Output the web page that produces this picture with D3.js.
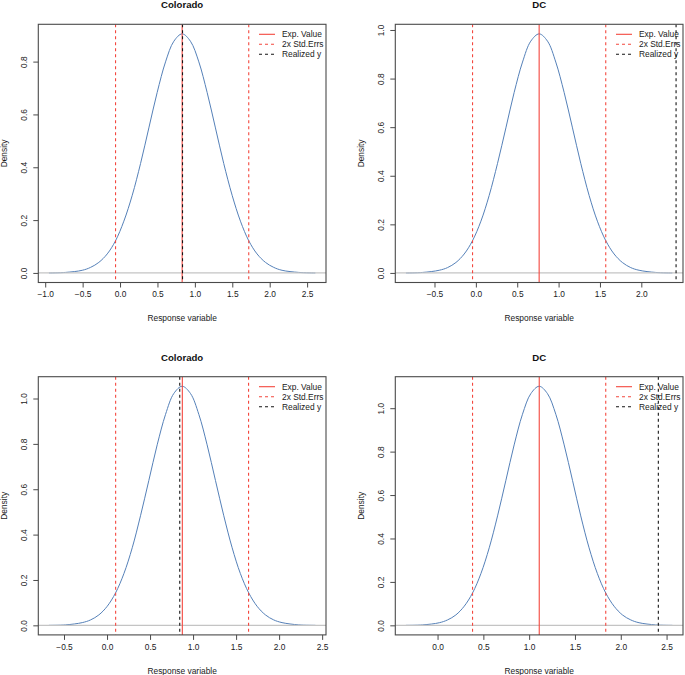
<!DOCTYPE html>
<html>
<head>
<meta charset="utf-8">
<script src="https://cdn.jsdelivr.net/npm/d3@7"></script>
<style>
  html, body { margin: 0; padding: 0; background: #fff; }
  svg { display: block; font-family: "Liberation Sans", Arial, Helvetica, sans-serif; }
</style>
</head>
<body>
<svg id="chart" width="685" height="675"></svg>
<script>
// ---------------- data ----------------
const panelTitles = ["Colorado", "DC", "Colorado", "DC"];

// Density curves (x, density)
const curveX1 = [-0.95,-0.728,-0.505,-0.394,-0.283,-0.171,-0.06,0.051,0.163,0.274,0.385,0.496,0.608,0.719,0.83,0.941,1.053,1.164,1.275,1.386,1.498,1.609,1.72,1.831,1.943,2.054,2.165,2.388,2.61];
const curveY1 = [0.000,0.002,0.010,0.021,0.040,0.072,0.122,0.196,0.294,0.414,0.549,0.683,0.799,0.877,0.905,0.877,0.799,0.683,0.549,0.414,0.294,0.196,0.122,0.072,0.040,0.021,0.010,0.002,0.000];

const curveX2 = [-0.845,-0.644,-0.443,-0.342,-0.241,-0.141,-0.04,0.061,0.161,0.262,0.363,0.463,0.564,0.664,0.765,0.866,0.966,1.067,1.168,1.268,1.369,1.469,1.57,1.671,1.771,1.872,1.973,2.174,2.375];
const curveY2 = [0.000,0.002,0.011,0.022,0.043,0.078,0.133,0.213,0.319,0.451,0.597,0.743,0.868,0.954,0.984,0.954,0.868,0.743,0.597,0.451,0.319,0.213,0.133,0.078,0.043,0.022,0.011,0.002,0.000];

const curveX3 = [-0.675,-0.482,-0.288,-0.191,-0.095,0.002,0.099,0.196,0.293,0.389,0.486,0.583,0.680,0.776,0.873,0.970,1.067,1.163,1.26,1.357,1.454,1.550,1.647,1.744,1.841,1.937,2.034,2.228,2.421];
const curveY3 = [0.000,0.002,0.012,0.024,0.046,0.084,0.143,0.228,0.342,0.483,0.639,0.796,0.930,1.022,1.054,1.022,0.930,0.796,0.639,0.483,0.342,0.228,0.143,0.084,0.046,0.024,0.012,0.002,0.000];

const curveX4 = [-0.345,-0.163,0.019,0.109,0.200,0.291,0.382,0.473,0.564,0.655,0.746,0.836,0.927,1.018,1.109,1.200,1.291,1.382,1.473,1.563,1.654,1.745,1.836,1.927,2.018,2.109,2.200,2.381,2.563];
const curveY4 = [0.000,0.002,0.012,0.025,0.048,0.088,0.149,0.238,0.357,0.504,0.668,0.831,0.972,1.067,1.101,1.067,0.972,0.831,0.668,0.504,0.357,0.238,0.149,0.088,0.048,0.025,0.012,0.002,0.000];

// Vertical reference lines
const expValues  = [0.83, 0.765, 0.875, 1.11];
const stdErrLow  = [-0.06, -0.04, 0.10, 0.382];
const stdErrHigh = [1.72, 1.57, 1.645, 1.836];
const realizedY  = [0.835, 2.42, 0.845, 2.41];

// Tick labels
const xTicks1 = [-1.0, -0.5, 0.0, 0.5, 1.0, 1.5, 2.0, 2.5];
const xTicks2 = [-0.5, 0.0, 0.5, 1.0, 1.5, 2.0];
const xTicks3 = [-0.5, 0.0, 0.5, 1.0, 1.5, 2.0, 2.5];
const xTicks4 = [0.0, 0.5, 1.0, 1.5, 2.0, 2.5];
const yTicks1 = [0.0, 0.2, 0.4, 0.6, 0.8];
const yTicks2 = [0.0, 0.2, 0.4, 0.6, 0.8, 1.0];
const yTicks3 = [0.0, 0.2, 0.4, 0.6, 0.8, 1.0];
const yTicks4 = [0.0, 0.2, 0.4, 0.6, 0.8, 1.0];

const legendLabels = ["Exp. Value", "2x Std.Errs", "Realized y"];
const xAxisLabel = "Response variable";
const yAxisLabel = "Density";

// ---------------- styling / layout ----------------
const colCurve = "#5580b8";
const colRed = "#f4473e";
const colBlack = "#151515";
const colBox = "#4a4a4a";
const colZero = "#c4c4c4";
const fs = 8.4;

const boxLefts = [38.3, 395.3];
const boxTops = [24.3, 376.7];
const boxW = 287.7, boxH = 258.2;

const svg = d3.select("#chart");

const curves = [
  [curveX1, curveY1], [curveX2, curveY2], [curveX3, curveY3], [curveX4, curveY4]
];
const xTicksAll = [xTicks1, xTicks2, xTicks3, xTicks4];
const yTicksAll = [yTicks1, yTicks2, yTicks3, yTicks4];

const fmt = v => (v < 0 ? "\u2212" : "") + Math.abs(v).toFixed(1);

function rExtend(ext) {
  const d = (ext[1] - ext[0]) * 0.04;
  return [ext[0] - d, ext[1] + d];
}

curves.forEach(([cx, cy], i) => {
  const col = i % 2, row = Math.floor(i / 2);
  const L = boxLefts[col], T = boxTops[row];
  const g = svg.append("g").attr("transform", `translate(${L},${T})`);

  const x = d3.scaleLinear().domain(rExtend(d3.extent(cx))).range([0, boxW]);
  const y = d3.scaleLinear().domain(rExtend([0, d3.max(cy)])).range([boxH, 0]);

  const clipId = "clip" + i;
  g.append("clipPath").attr("id", clipId)
    .append("rect").attr("width", boxW).attr("height", boxH);

  const plot = g.append("g").attr("clip-path", `url(#${clipId})`);

  // density curve
  const pts = cx.map((v, k) => [v, cy[k]]);
  plot.append("path")
    .datum(pts)
    .attr("fill", "none")
    .attr("stroke", colCurve)
    .attr("stroke-width", 1)
    .attr("d", d3.line().x(d => x(d[0])).y(d => y(d[1])).curve(d3.curveCatmullRom.alpha(0.5)));

  // zero line
  plot.append("line")
    .attr("x1", 0).attr("x2", boxW)
    .attr("y1", y(0)).attr("y2", y(0))
    .attr("stroke", colZero).attr("stroke-width", 1.2);

  const vline = (v, color, dash) => {
    plot.append("line")
      .attr("x1", x(v)).attr("x2", x(v))
      .attr("y1", 0).attr("y2", boxH)
      .attr("stroke", color).attr("stroke-width", 1.1)
      .attr("stroke-dasharray", dash);
  };
  vline(expValues[i], colRed, null);
  vline(stdErrLow[i], colRed, "3,3");
  vline(stdErrHigh[i], colRed, "3,3");
  vline(realizedY[i], colBlack, "3,3");

  // axes
  const xAxis = d3.axisBottom(x).tickValues(xTicksAll[i]).tickFormat(fmt).tickSize(5).tickPadding(4);
  const gx = g.append("g").attr("transform", `translate(0,${boxH})`).call(xAxis);
  const yAxis = d3.axisLeft(y).tickValues(yTicksAll[i]).tickFormat(fmt).tickSize(5).tickPadding(3);
  const gy = g.append("g").call(yAxis);
  [gx, gy].forEach(a => {
    a.select(".domain").remove();
    a.selectAll(".tick line").attr("stroke", colBox);
    a.selectAll("text").attr("font-size", fs).attr("fill", "#1a1a1a")
      .attr("font-family", "Liberation Sans, Arial, sans-serif");
  });
  gy.selectAll(".tick text")
    .attr("x", null).attr("dy", null)
    .attr("text-anchor", "middle")
    .attr("transform", "translate(-11,0) rotate(-90)");

  // box
  g.append("rect").attr("width", boxW).attr("height", boxH)
    .attr("fill", "none").attr("stroke", colBox).attr("stroke-width", 1.1);

  // title
  g.append("text").attr("x", boxW / 2).attr("y", -16)
    .attr("text-anchor", "middle").attr("font-weight", "bold")
    .attr("font-size", 9.6).attr("fill", "#111").text(panelTitles[i]);

  // axis titles
  g.append("text").attr("x", boxW / 2).attr("y", boxH + 39)
    .attr("text-anchor", "middle").attr("font-size", fs).attr("fill", "#1a1a1a").text(xAxisLabel);
  g.append("text").attr("transform", `translate(-31,${boxH / 2}) rotate(-90)`)
    .attr("text-anchor", "middle").attr("font-size", fs).attr("fill", "#1a1a1a").text(yAxisLabel);

  // legend
  const legColors = [colRed, colRed, colBlack];
  const legDash = [null, "3,3", "3,3"];
  const lg = g.append("g").attr("transform", `translate(${boxW - 67},0)`);
  legendLabels.forEach((lab, k) => {
    const ly = 10 + k * 10;
    lg.append("line").attr("x1", 0).attr("x2", 16).attr("y1", ly).attr("y2", ly)
      .attr("stroke", legColors[k]).attr("stroke-width", 1.1).attr("stroke-dasharray", legDash[k]);
    lg.append("text").attr("x", 23).attr("y", ly + 3).attr("font-size", fs).attr("fill", "#1a1a1a").text(lab);
  });
});
</script>
</body>
</html>
